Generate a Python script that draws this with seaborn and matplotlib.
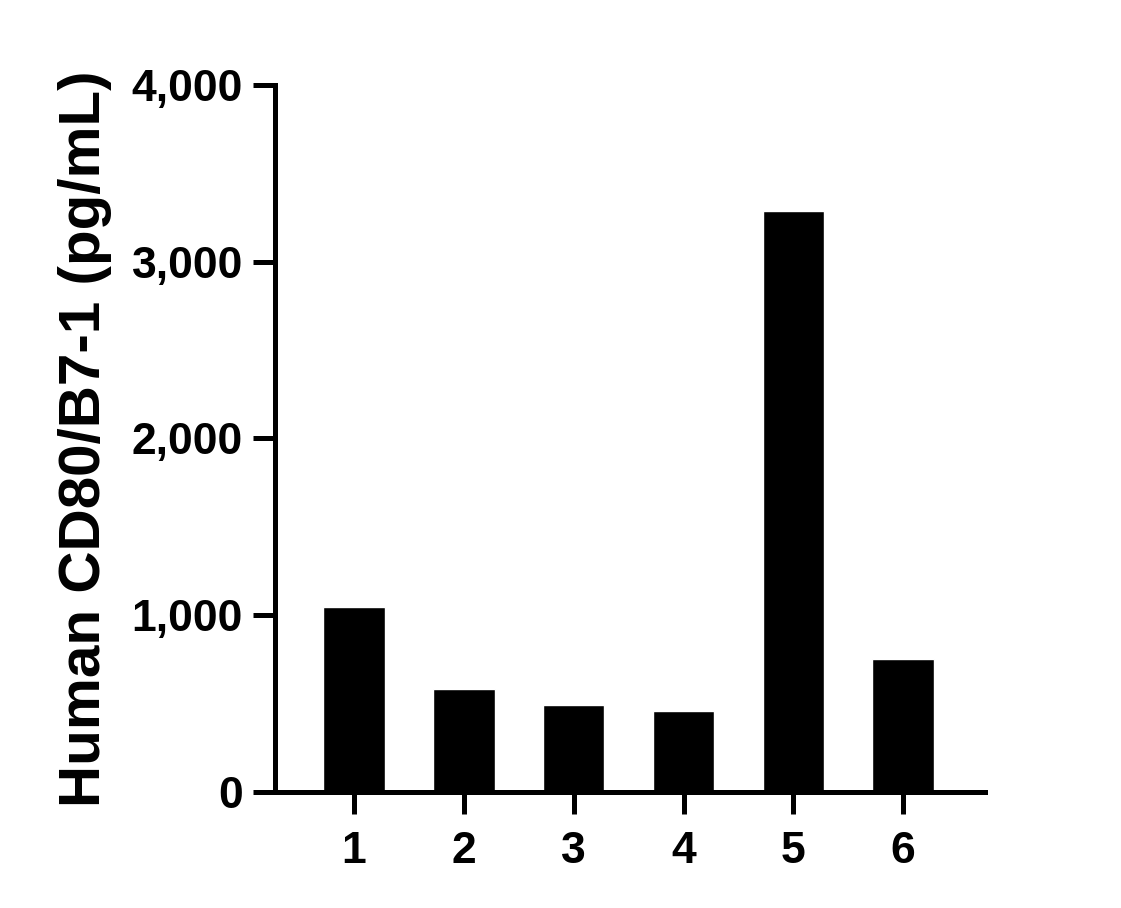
import seaborn as sns
import pandas as pd
import matplotlib.pyplot as plt
from matplotlib.ticker import FuncFormatter

samples = ["1", "2", "3", "4", "5", "6"]
conc = [1045, 583, 492, 458, 3287, 752]

sns.set_theme(style="ticks")
plt.rcParams['font.family'] = ['Liberation Sans', 'DejaVu Sans']
plt.rcParams['font.weight'] = 'bold'
plt.rcParams['text.color'] = 'black'
plt.rcParams['axes.labelcolor'] = 'black'
plt.rcParams['xtick.color'] = 'black'
plt.rcParams['ytick.color'] = 'black'

data = pd.DataFrame({"sample": samples, "conc": conc})

fig = plt.figure(figsize=(11.21, 9.08), dpi=100)
ax = fig.add_axes([0.2453, 0.1278, 0.6334, 0.7786])
sns.barplot(x="sample", y="conc", data=data, color="black", width=0.56,
            saturation=1, ax=ax)

ax.set_xlim(-0.72, 5.745)
ax.set_ylim(0, 4000)
ax.set_yticks([0, 1000, 2000, 3000, 4000])
ax.yaxis.set_major_formatter(FuncFormatter(lambda v, p: f"{int(v):,}"))
ax.set_xlabel("")
ax.set_ylabel("Human CD80/B7-1 (pg/mL)", fontsize=42, fontweight='bold', labelpad=14)

for s in ["top", "right"]:
    ax.spines[s].set_visible(False)
for s in ["left", "bottom"]:
    ax.spines[s].set_linewidth(3.6)
    ax.spines[s].set_color("black")
ax.tick_params(axis="both", length=16, width=3.6, color="black",
               labelcolor="black", labelsize=32, pad=7)
ax.tick_params(axis="x", pad=12)
for lab in ax.get_xticklabels() + ax.get_yticklabels():
    lab.set_fontweight('bold')

fig.savefig("out.png", dpi=100)
